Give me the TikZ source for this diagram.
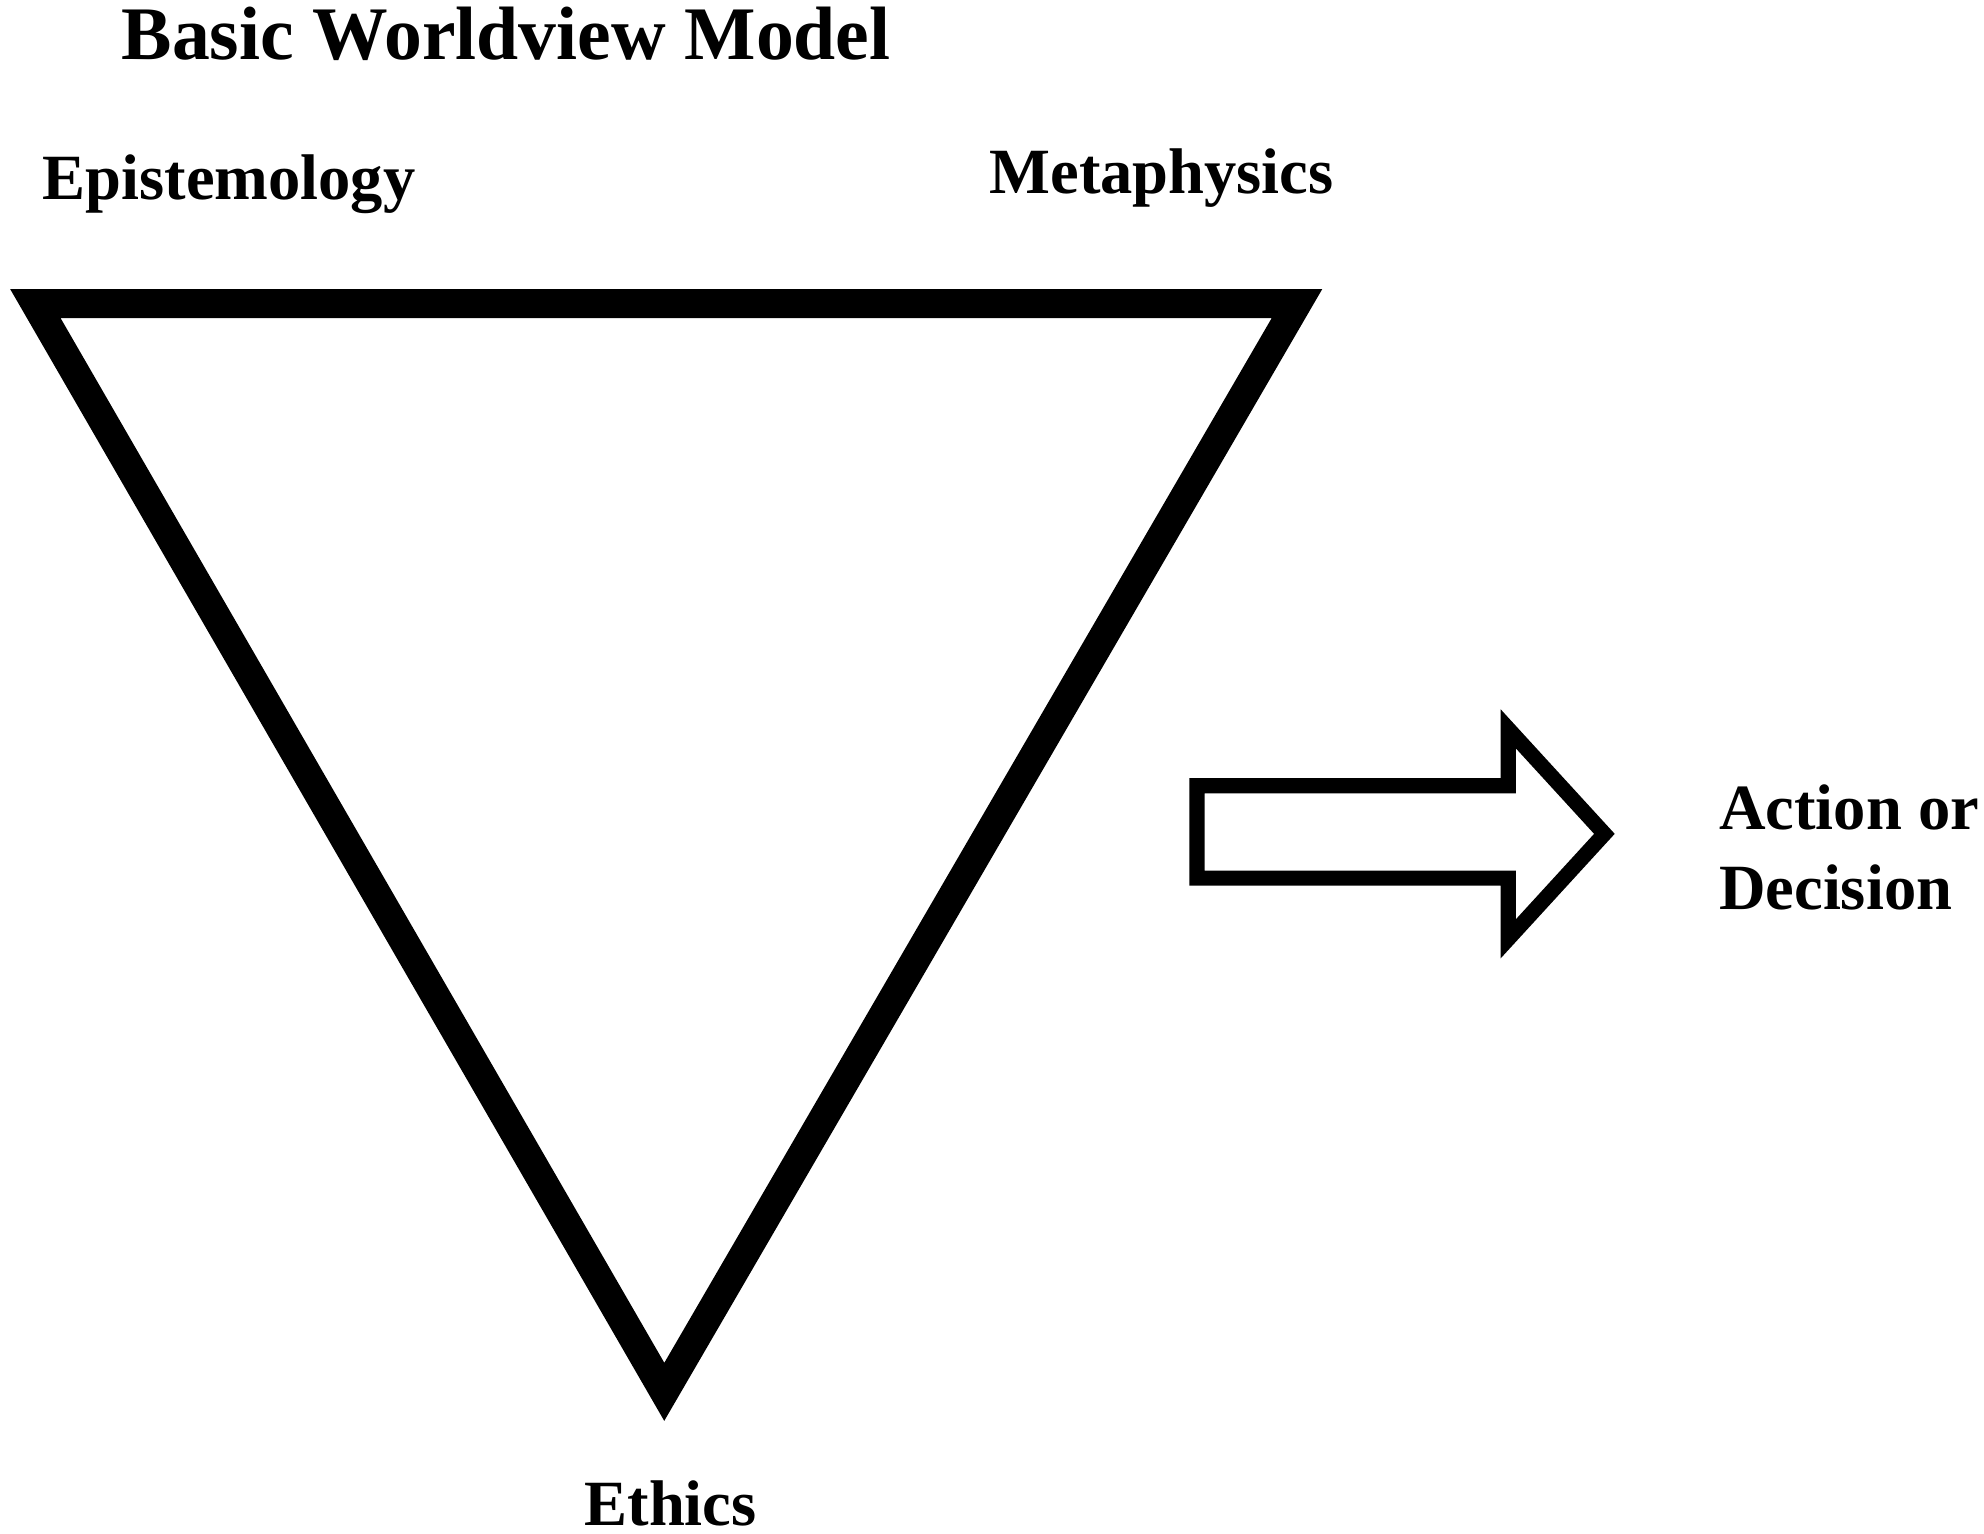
\documentclass[tikz,border=0pt]{standalone}
\usepackage{fontspec}
\setmainfont{Liberation Serif}
\begin{document}
\begin{tikzpicture}[x=0.01cm,y=-0.01cm,
  lbl/.style={font=\fontsize{14.5}{16}\selectfont\bfseries,inner sep=0pt}]
\useasboundingbox (0,0) rectangle (1568,1212);
\draw[line width=0.23cm,line join=miter] (28,240) -- (1025,240) -- (525,1100) -- cycle;
\draw[line width=0.12cm,line join=miter] (946,621) -- (1192,621) -- (1192,576) -- (1268,659) -- (1192,742) -- (1192,694) -- (946,694) -- cycle;
\node[lbl,font=\fontsize{17}{19}\selectfont\bfseries] (title) at (400,27) {Basic Worldview Model};
\node[lbl] (epi) at (181,146) {Epistemology};
\node[lbl] (meta) at (918,141) {Metaphysics};
\node[lbl] (eth) at (530,1188) {Ethics};
\node[lbl,align=left,anchor=west] (act) at (1358,670) {Action or\\[2pt]Decision};
\end{tikzpicture}
\end{document}
